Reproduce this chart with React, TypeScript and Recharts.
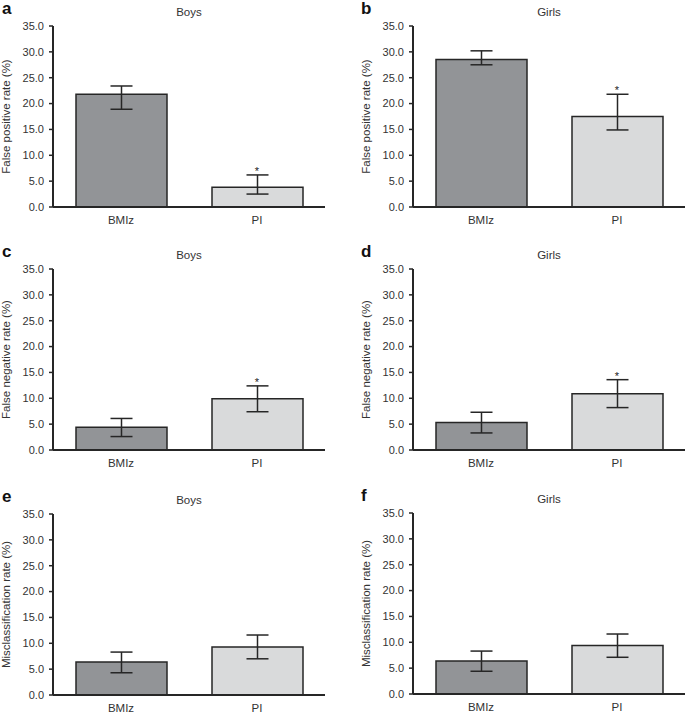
import React from 'react';
import { BarChart, Bar, XAxis, YAxis, ErrorBar, Cell, ReferenceDot } from 'recharts';

const categories = ['BMIz', 'PI'];
const yTicks = [0, 5, 10, 15, 20, 25, 30, 35];

// a: false positive, boys
const fpBoysValue = [21.8, 3.8];
const fpBoysLow = [18.9, 2.5];
const fpBoysHigh = [23.4, 6.2];
const fpBoysSig = [false, true];
// b: false positive, girls
const fpGirlsValue = [28.5, 17.5];
const fpGirlsLow = [27.5, 14.9];
const fpGirlsHigh = [30.2, 21.8];
const fpGirlsSig = [false, true];
// c: false negative, boys
const fnBoysValue = [4.4, 9.9];
const fnBoysLow = [2.6, 7.4];
const fnBoysHigh = [6.1, 12.4];
const fnBoysSig = [false, true];
// d: false negative, girls
const fnGirlsValue = [5.3, 10.9];
const fnGirlsLow = [3.3, 8.2];
const fnGirlsHigh = [7.3, 13.6];
const fnGirlsSig = [false, true];
// e: misclassification, boys
const mcBoysValue = [6.4, 9.3];
const mcBoysLow = [4.3, 7.0];
const mcBoysHigh = [8.3, 11.6];
const mcBoysSig = [false, false];
// f: misclassification, girls
const mcGirlsValue = [6.4, 9.4];
const mcGirlsLow = [4.4, 7.1];
const mcGirlsHigh = [8.3, 11.6];
const mcGirlsSig = [false, false];

const barColors = ['#929497', '#d9dadb'];
const FONT = '"Liberation Sans", Arial, Helvetica, sans-serif';
const TEXT = '#333333';
const INK = '#262626';

function buildRows(values: number[], low: number[], high: number[], sig: boolean[]) {
  return categories.map((c, i) => ({
    cat: c,
    value: values[i],
    err: [values[i] - low[i], high[i] - values[i]],
    high: high[i],
    sig: sig[i],
  }));
}

const YLabel = (label: string) => (props: any) => {
  const vb = props.viewBox || {};
  const cx = vb.x + 6;
  const cy = vb.y + vb.height / 2;
  return (
    <text
      x={cx}
      y={cy}
      transform={`rotate(-90, ${cx}, ${cy})`}
      textAnchor="middle"
      dominantBaseline="central"
      fontSize={11.5}
      fontFamily={FONT}
      fill={TEXT}
    >
      {label}
    </text>
  );
};

const StarLabel = (props: any) => {
  const vb = props.viewBox || {};
  const cx = vb.x + (vb.width || 0) / 2;
  const cy = vb.y;
  return (
    <text x={cx} y={cy} textAnchor="middle" fontSize={11} fontFamily={FONT} fill="#222" stroke="none">
      *
    </text>
  );
};

type PanelProps = {
  left: number;
  plotTop: number;
  col: number;
  rows: any[];
  yLabel: string;
};

const PLOT_H = 181;

function Panel({ left, plotTop, col, rows, yLabel }: PanelProps) {
  const width = col === 0 ? 340 : 345;
  const margin = col === 0 ? { top: 26, right: 15, bottom: 8, left: 0 } : { top: 26, right: 0, bottom: 8, left: 20 };
  const height = 26 + PLOT_H + 25 + 8;
  return (
    <div style={{ position: 'absolute', left, top: plotTop - 26, width, height }}>
      <BarChart width={width} height={height} data={rows} margin={margin} barSize={91}>
        <XAxis
          dataKey="cat"
          height={25}
          tickLine={false}
          tickSize={0}
          tickMargin={9}
          axisLine={{ stroke: INK, strokeWidth: 2 }}
          tick={{ fontSize: 11.5, fontFamily: FONT, fill: TEXT }}
        />
        <YAxis
          width={53}
          domain={[0, 35]}
          ticks={yTicks}
          interval={0}
          tickFormatter={(v: number) => v.toFixed(1)}
          tickSize={4}
          tickMargin={5}
          tickLine={{ stroke: INK, strokeWidth: 1.5 }}
          axisLine={{ stroke: INK, strokeWidth: 2 }}
          tick={{ fontSize: 11, fontFamily: FONT, fill: TEXT }}
          label={{ content: YLabel(yLabel) }}
        />
        <Bar dataKey="value" stroke={INK} strokeWidth={1.5} isAnimationActive={false}>
          {rows.map((r, i) => (
            <Cell key={r.cat} fill={barColors[i]} />
          ))}
          <ErrorBar dataKey="err" width={11} stroke={INK} strokeWidth={1.5} direction="y" />
        </Bar>
        {rows
          .filter((r) => r.sig)
          .map((r) => (
            <ReferenceDot
              key={r.cat}
              x={r.cat}
              y={r.high}
              r={0}
              stroke="none"
              fill="none"
              label={{ content: StarLabel }}
            />
          ))}
      </BarChart>
    </div>
  );
}

const panels = [
  { letter: 'a', title: 'Boys', col: 0, plotTop: 26, rows: buildRows(fpBoysValue, fpBoysLow, fpBoysHigh, fpBoysSig), yLabel: 'False positive rate (%)' },
  { letter: 'b', title: 'Girls', col: 1, plotTop: 26, rows: buildRows(fpGirlsValue, fpGirlsLow, fpGirlsHigh, fpGirlsSig), yLabel: 'False positive rate (%)' },
  { letter: 'c', title: 'Boys', col: 0, plotTop: 269, rows: buildRows(fnBoysValue, fnBoysLow, fnBoysHigh, fnBoysSig), yLabel: 'False negative rate (%)' },
  { letter: 'd', title: 'Girls', col: 1, plotTop: 269, rows: buildRows(fnGirlsValue, fnGirlsLow, fnGirlsHigh, fnGirlsSig), yLabel: 'False negative rate (%)' },
  { letter: 'e', title: 'Boys', col: 0, plotTop: 514, rows: buildRows(mcBoysValue, mcBoysLow, mcBoysHigh, mcBoysSig), yLabel: 'Misclassification rate (%)' },
  { letter: 'f', title: 'Girls', col: 1, plotTop: 513, rows: buildRows(mcGirlsValue, mcGirlsLow, mcGirlsHigh, mcGirlsSig), yLabel: 'Misclassification rate (%)' },
];

export default function App() {
  return (
    <div style={{ position: 'absolute', left: 0, top: 0, width: 685, height: 712, background: '#fff', overflow: 'hidden' }}>
      {panels.map((p) => (
        <Panel key={p.letter} left={p.col === 0 ? 0 : 340} plotTop={p.plotTop} col={p.col} rows={p.rows} yLabel={p.yLabel} />
      ))}
      <svg width={685} height={712} style={{ position: 'absolute', left: 0, top: 0, pointerEvents: 'none' }}>
        {panels.map((p) => {
          const axisX = p.col === 0 ? 53 : 413;
          const titleX = axisX + 136;
          const letterX = p.col === 0 ? 2 : 361;
          return (
            <g key={p.letter}>
              <text x={letterX} y={p.plotTop - 12} fontSize={17} fontWeight="bold" fontFamily={FONT} fill="#111">
                {p.letter}
              </text>
              <text x={titleX} y={p.plotTop - 10} fontSize={11.5} textAnchor="middle" fontFamily={FONT} fill={TEXT}>
                {p.title}
              </text>
            </g>
          );
        })}
      </svg>
    </div>
  );
}
